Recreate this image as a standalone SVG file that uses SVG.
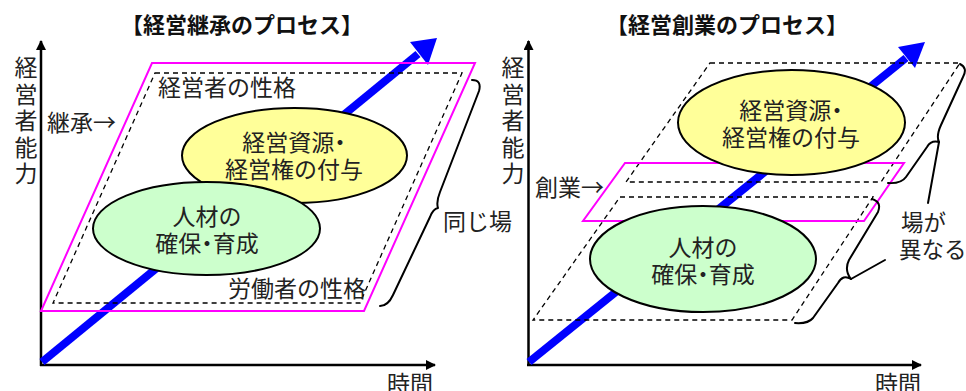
<svg xmlns="http://www.w3.org/2000/svg" width="966" height="391" viewBox="0 0 966 391">
<defs>
<style>
.t{font-family:"Noto Sans CJK JP","Noto Sans",sans-serif;font-size:23px;fill:#222}
.title{font-family:"Noto Sans CJK JP","Noto Sans",sans-serif;font-size:22px;font-weight:bold;fill:#111;text-anchor:middle}
.c{text-anchor:middle}
.p{font-feature-settings:"palt"}
.v{writing-mode:vertical-rl;letter-spacing:3.5px}
.axis{stroke:#000;stroke-width:2.5;fill:none}
.mag{stroke:#FF00FF;stroke-width:2;fill:none}
.dash{stroke:#000;stroke-width:1.3;stroke-dasharray:5,4;fill:none}
.brace{stroke:#000;stroke-width:2;fill:none;stroke-linejoin:round;stroke-linecap:round}
.yel{fill:#FFFF99;stroke:#000;stroke-width:2}
.grn{fill:#CCFFCC;stroke:#000;stroke-width:2}
.blue{stroke:#0000FF;stroke-width:8;fill:none}
</style>
<marker id="ah" viewBox="0 0 10 10" refX="9" refY="5" markerWidth="5" markerHeight="4" orient="auto" markerUnits="strokeWidth">
<path d="M0,0 L10,5 L0,10 z" fill="#000"/>
</marker>
</defs>

<!-- LEFT PANEL -->
<g id="left-title"><text class="title" x="242" y="33">【経営継承のプロセス】</text></g>
<g id="left-axes">
<line class="axis" x1="41" y1="366" x2="41" y2="41" marker-end="url(#ah)"/>
<line class="axis" x1="40" y1="365" x2="435" y2="365" marker-end="url(#ah)"/>
<text class="t" x="387" y="392">時間</text>
<text class="t v" x="26" y="56">経営者能力</text>
</g>
<g id="left-blue-arrow">
<line class="blue" x1="42" y1="362" x2="418" y2="54"/>
<polygon points="437,38 410,42 428,65" fill="#0000FF"/>
</g>
<g id="left-plane">
<polygon class="mag" points="152,63 475,63 364,311 41,311"/>
<polygon class="dash" points="155,73 462,73 360,303 53,303"/>
<text class="t" x="158" y="96">経営者の性格</text>
<text class="t" x="228" y="297">労働者の性格</text>
</g>
<g id="left-label-keisho"><text class="t" x="47" y="131">継承→</text></g>
<g id="left-yellow">
<ellipse class="yel" cx="294.5" cy="155.5" rx="112.5" ry="47.5"/>
<text class="t c"><tspan class="p" x="294" y="151">経営資源・</tspan><tspan x="294" y="178">経営権の付与</tspan></text>
</g>
<g id="left-green">
<ellipse class="grn" cx="206.5" cy="228.5" rx="113.5" ry="46.5"/>
<text class="t c"><tspan x="207" y="225">人材の</tspan><tspan class="p" x="207" y="252">確保・育成</tspan></text>
</g>
<g id="left-brace">
<path class="brace" d="M472 80 Q482 80 479 91 L440 192 Q436 202 438 208 Q433 209 430 217 L393 295 Q388 306 380 306"/>
<text class="t" x="443" y="230">同じ場</text>
</g>

<!-- RIGHT PANEL -->
<g id="right-title"><text class="title" x="727" y="33">【経営創業のプロセス】</text></g>
<g id="right-axes">
<line class="axis" x1="528.5" y1="366" x2="528.5" y2="41" marker-end="url(#ah)"/>
<line class="axis" x1="527" y1="365" x2="921" y2="365" marker-end="url(#ah)"/>
<text class="t" x="875" y="392">時間</text>
<text class="t v" x="513" y="56">経営者能力</text>
</g>
<g id="right-blue-arrow">
<line class="blue" x1="529" y1="362" x2="906" y2="58"/>
<polygon points="925,42 898,47 915,68" fill="#0000FF"/>
</g>
<g id="right-upper-plane"><polygon class="dash" points="710,63 960,63 881,182 626,182"/></g>
<g id="right-lower-plane"><polygon class="dash" points="620,197 873,197 792,320 533,320"/></g>
<g id="right-sogyo-plane">
<polygon class="mag" points="625,163 904,163 864,221 583,221"/>
<text class="t" x="535" y="196">創業→</text>
</g>
<g id="right-yellow">
<ellipse class="yel" cx="791.5" cy="122.5" rx="113.5" ry="52.5"/>
<text class="t c"><tspan class="p" x="791" y="119">経営資源・</tspan><tspan x="791" y="146">経営権の付与</tspan></text>
</g>
<g id="right-green">
<ellipse class="grn" cx="703" cy="259" rx="113" ry="53"/>
<text class="t c"><tspan x="703" y="256">人材の</tspan><tspan class="p" x="703" y="283">確保・育成</tspan></text>
</g>
<g id="right-braces">
<path class="brace" d="M960 64 Q968 68 963 77 L941 125 Q936 136 939 142 Q931 140 927 147 L906 177 Q901 184 888 183"/>
<path class="brace" d="M939 142 L928 203"/>
<path class="brace" d="M872 199 Q882 202 878 212 L849 260 Q844 270 851 279 Q843 274 838 283 L813 318 Q808 324 795 323"/>
<path class="brace" d="M851 279 L885 260"/>
<text class="t" style="font-size:22.5px"><tspan x="901" y="231">場が</tspan><tspan x="899" y="258">異なる</tspan></text>
</g>
</svg>
